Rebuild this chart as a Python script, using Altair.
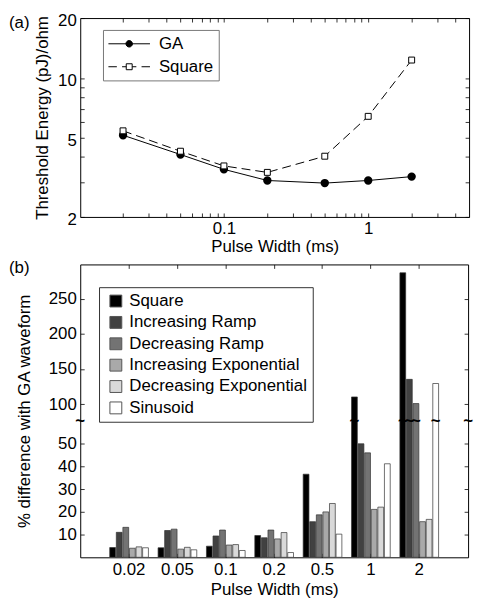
import altair as alt
import pandas as pd

# ---------------- panel (a) data ----------------
pulse_width_ms = [0.02, 0.05, 0.1, 0.2, 0.5, 1, 2]
ga_energy = [5.15, 4.12, 3.47, 3.05, 2.96, 3.05, 3.19]
square_energy = [5.42, 4.28, 3.61, 3.35, 4.04, 6.41, 12.3]

a_x_ticks = [0.02, 0.03, 0.04, 0.05, 0.06, 0.07, 0.08, 0.09,
             0.1, 0.2, 0.3, 0.4, 0.5, 0.6, 0.7, 0.8, 0.9,
             1, 2, 3, 4]
a_y_ticks = [2, 3, 4, 5, 6, 7, 8, 9, 10, 20]
a_series = ["GA", "Square"]

# ---------------- panel (b) data ----------------
pw_labels = ["0.02", "0.05", "0.1", "0.2", "0.5", "1", "2"]
waveforms = ["Square", "Increasing Ramp", "Decreasing Ramp",
             "Increasing Exponential", "Decreasing Exponential", "Sinusoid"]
pct_square = [4.3, 4.2, 4.9, 9.6, 36.6, 110.3, 286.7]
pct_inc_ramp = [11.0, 11.8, 9.4, 8.6, 15.7, 50.0, 135.3]
pct_dec_ramp = [13.2, 12.4, 12.0, 12.0, 18.7, 46.0, 100.9]
pct_inc_exp = [4.0, 3.6, 5.4, 8.1, 20.0, 21.1, 15.7]
pct_dec_exp = [4.6, 4.4, 5.6, 10.9, 23.7, 22.1, 16.7]
pct_sin = [4.2, 3.3, 3.0, 2.1, 10.2, 41.2, 129.4]
wave_colors = ["#000000", "#414141", "#737373", "#a9a9a9", "#d9d9d9", "#ffffff"]

b_low_ticks = [10, 20, 30, 40, 50]
b_high_ticks = [100, 150, 200, 250]
B_LO = 60      # top of lower segment (axis units)
B_HI = 76      # value of upper segment at the break
RATIO = 0.31   # upper segment compression
B_TOP = 129

# ---------------- sizes ----------------
WA, HA = 393, 201
WB, HB = 392, 296
FONT = "Liberation Sans"

# ---------------- panel (a) ----------------
df_a = pd.DataFrame({
    "pw": pulse_width_ms * 2,
    "energy": ga_energy + square_energy,
    "series": ["GA"] * len(ga_energy) + ["Square"] * len(square_energy),
})

xa = alt.X("pw:Q", scale=alt.Scale(type="log", domain=[0.0101, 5], nice=False),
           axis=alt.Axis(title="Pulse Width (ms)", values=a_x_ticks,
                         labelExpr="datum.value == 0.1 ? '0.1' : (datum.value == 1 ? '1' : '')",
                         grid=True, gridDash=[4, HA - 8], gridColor="black", gridWidth=0.8,
                         ticks=False, tickSize=0, domain=False, labelPadding=4,
                         titlePadding=2, labelFlush=False, labelOverlap=False))
ya = alt.Y("energy:Q", scale=alt.Scale(type="log", domain=[2, 20], nice=False),
           axis=alt.Axis(title="Threshold Energy (pJ)/ohm", values=a_y_ticks,
                         labelExpr="indexof([2,5,10,20], datum.value) >= 0 ? format(datum.value, 'd') : ''",
                         grid=True, gridDash=[4, WA - 8], gridColor="black", gridWidth=0.8,
                         ticks=False, tickSize=0, domain=False, labelPadding=4,
                         titlePadding=6, labelFlush=False, labelOffset=3, labelOverlap=False))

base_a = alt.Chart(df_a)
line_ga = base_a.transform_filter("datum.series == 'GA'").mark_line(
    color="black", strokeWidth=1).encode(x=xa, y=ya)
line_sq = base_a.transform_filter("datum.series == 'Square'").mark_line(
    color="black", strokeWidth=1, strokeDash=[9, 5]).encode(x=xa, y=ya)
pts_ga = base_a.transform_filter("datum.series == 'GA'").mark_point(
    shape="circle", filled=True, fill="black", stroke="black", size=42, opacity=1).encode(x=xa, y=ya)
pts_sq = base_a.transform_filter("datum.series == 'Square'").mark_point(
    shape="square", filled=True, fill="white", stroke="black", strokeWidth=1, size=36, opacity=1).encode(x=xa, y=ya)

# legend glyphs: line + marker (units of 8 px, symbolSize 256)
ga_path = "M-2.625,0L2.625,0M0.41,0A0.41,0.41 0 1,1 -0.41,0A0.41,0.41 0 1,1 0.41,0Z"
sq_path = ("M-2.625,0L-1.56,0M-0.9,0L-0.375,0M0.375,0L0.9,0M1.56,0L2.625,0"
           "M-0.375,-0.375L0.375,-0.375L0.375,0.375L-0.375,0.375Z")

leg_a = alt.Legend(title=None, orient="none", legendX=23, legendY=12,
                   symbolSize=256, symbolOffset=12.5, labelFontSize=17, labelFont=FONT,
                   labelOffset=21.5, padding=5.5, rowPadding=5.2, strokeColor="#777",
                   fillColor="white", symbolStrokeWidth=1, symbolStrokeColor="black",
                   symbolOpacity=1, labelColor="black", labelLimit=300)
legend_layer_a = base_a.transform_filter("false").mark_point(
    filled=True, stroke="black", strokeWidth=1, opacity=1).encode(
    shape=alt.Shape("series:N", scale=alt.Scale(domain=a_series, range=[ga_path, sq_path]), legend=leg_a),
    fill=alt.Fill("series:N", scale=alt.Scale(domain=a_series, range=["black", "white"]), legend=leg_a),
    stroke=alt.Stroke("series:N", scale=alt.Scale(domain=a_series, range=["black", "black"]), legend=leg_a),
)

tag_a = alt.Chart(pd.DataFrame({"tag": ["(a)"]})).mark_text(
    align="left", baseline="middle", fontSize=17, font=FONT, color="black").encode(
    text="tag:N", x=alt.value(-72), y=alt.value(5))

panel_a = alt.layer(line_ga, line_sq, pts_ga, pts_sq, legend_layer_a, tag_a).properties(
    width=WA, height=HA)

# ---------------- panel (b) ----------------
rows = []
for w, vals in zip(waveforms, [pct_square, pct_inc_ramp, pct_dec_ramp,
                               pct_inc_exp, pct_dec_exp, pct_sin]):
    for p, v in zip(pw_labels, vals):
        rows.append({"pw": p, "wave": w, "v": v})
df_b = pd.DataFrame(rows)

t_expr = f"datum.v <= {B_LO} ? datum.v : {B_LO} + (datum.v - {B_HI}) * {RATIO}"
b_tick_t = b_low_ticks + [B_LO + (v - B_HI) * RATIO for v in b_high_ticks]
b_label_expr = (f"datum.value <= {B_LO} ? format(datum.value, 'd') : "
                f"format(round({B_HI} + (datum.value - {B_LO}) / {RATIO}), 'd')")

xb = alt.X("pw:N", sort=pw_labels,
           scale=alt.Scale(domain=pw_labels, paddingInner=0.2, paddingOuter=0.61),
           axis=alt.Axis(title="Pulse Width (ms)", labelAngle=0, grid=True,
                         gridDash=[4, HB - 8], gridColor="black", gridWidth=0.8,
                         ticks=False, tickSize=0, domain=False, labelPadding=4,
                         titlePadding=5, bandPosition=0.5, labelOverlap=False))
xob = alt.XOffset("wave:N", sort=waveforms,
                  scale=alt.Scale(domain=waveforms, paddingInner=0.12, paddingOuter=0))
yb = alt.Y("t:Q", scale=alt.Scale(domain=[0, B_TOP], nice=False, zero=True),
           axis=alt.Axis(title="% difference with GA waveform", values=b_tick_t,
                         labelExpr=b_label_expr, grid=True, gridDash=[4, WB - 8],
                         gridColor="black", gridWidth=0.8, ticks=False, tickSize=0,
                         domain=False, labelPadding=4, titlePadding=15, labelFlush=False,
                         labelOverlap=False))

leg_b = alt.Legend(title=None, orient="none", legendX=19, legendY=23,
                   symbolType="square", symbolSize=144,
                   labelFontSize=17, labelFont=FONT, labelOffset=5.1, symbolOffset=3,
                   padding=5.5, rowPadding=3.6, strokeColor="#333", fillColor="white",
                   symbolStrokeColor="#555", symbolStrokeWidth=1, symbolOpacity=1,
                   labelColor="black", labelLimit=300)

bars = alt.Chart(df_b).transform_calculate(t=t_expr).mark_bar(
    stroke="#333", strokeWidth=0.7, clip=True).encode(
    x=xb, xOffset=xob, y=yb,
    fill=alt.Fill("wave:N", sort=waveforms,
                  scale=alt.Scale(domain=waveforms, range=wave_colors), legend=leg_b),
)

tilde = dict(text="~", fontSize=17, fontWeight="bold", color="black", baseline="middle")
break_bars = alt.Chart(df_b).transform_filter(f"datum.v > {B_HI}").transform_calculate(
    t=str(B_LO)).mark_text(**tilde).encode(x=xb, xOffset=xob, y=yb)

one = pd.DataFrame({"k": [0]})
break_left = alt.Chart(one).transform_calculate(t=str(B_LO)).mark_text(**tilde).encode(
    x=alt.value(0), y=yb)
break_right = alt.Chart(one).transform_calculate(t=str(B_LO)).mark_text(**tilde).encode(
    x=alt.value(WB), y=yb)

tag_b = alt.Chart(pd.DataFrame({"tag": ["(b)"]})).mark_text(
    align="left", baseline="middle", fontSize=17, font=FONT, color="black").encode(
    text="tag:N", x=alt.value(-72), y=alt.value(4))

panel_b = alt.layer(bars, break_bars, break_left, break_right, tag_b).properties(
    width=WB, height=HB)

chart = alt.vconcat(panel_a, panel_b, spacing=3).resolve_scale(
    fill="independent", shape="independent", stroke="independent",
    x="independent", y="independent"
).resolve_legend(
    fill="independent", shape="independent", stroke="independent"
).properties(
    padding={"left": 0, "top": 0, "right": 2, "bottom": 0}
).configure(font=FONT).configure_view(
    stroke="black", strokeWidth=1
).configure_axis(
    labelFontSize=17, titleFontSize=17, labelColor="black", titleColor="black",
    titleFontWeight="normal", labelFont=FONT, titleFont=FONT, labelOverlap=False
).configure_text(font=FONT)

chart.save("out.html", embed_options={"renderer": "svg", "actions": False})
